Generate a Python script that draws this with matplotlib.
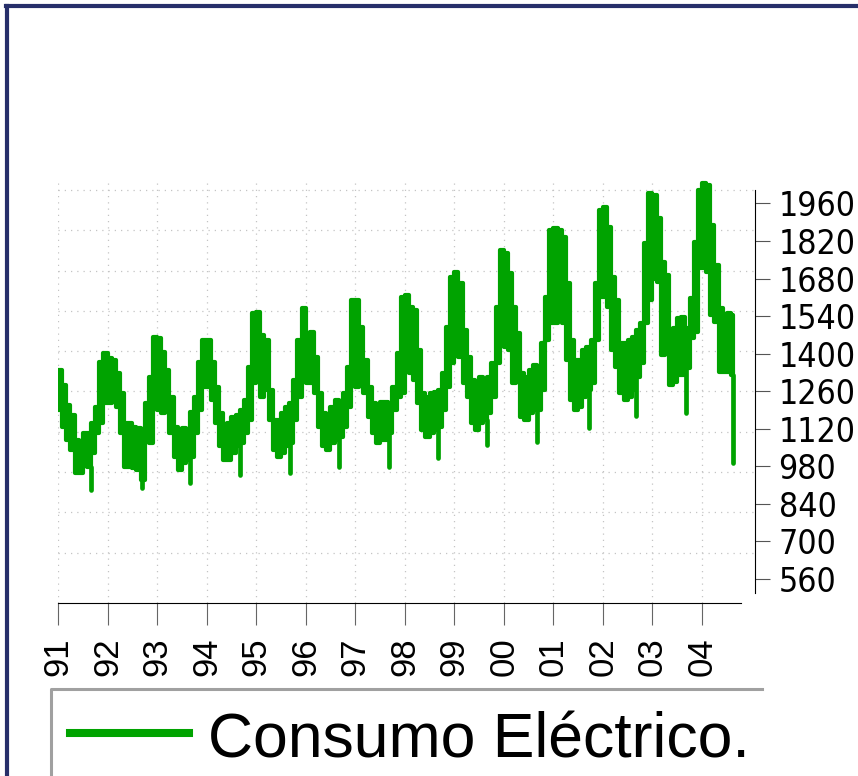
import numpy as np
import matplotlib.pyplot as plt
from matplotlib import font_manager as fm
from matplotlib.lines import Line2D

# monthly upper / lower envelope of the daily series, Jan 1991 .. Aug 2004
monthly_high = [
    1339, 1283, 1209, 1172, 1078, 1066, 1103, 1103, 1141, 1203, 1370, 1402,  # 1991
    1383, 1377, 1327, 1252, 1141, 1141, 1128, 1122, 1103, 1215, 1314, 1464,  # 1992
    1457, 1408, 1339, 1240, 1128, 1091, 1122, 1116, 1184, 1240, 1370, 1451,  # 1993
    1451, 1370, 1277, 1178, 1128, 1141, 1165, 1172, 1190, 1228, 1352, 1551,  # 1994
    1557, 1470, 1451, 1265, 1153, 1153, 1178, 1203, 1215, 1302, 1451, 1569,  # 1995
    1476, 1482, 1389, 1252, 1178, 1165, 1203, 1227, 1215, 1252, 1352, 1600,  # 1996
    1600, 1501, 1377, 1277, 1215, 1203, 1221, 1221, 1215, 1277, 1402, 1613,  # 1997
    1619, 1575, 1563, 1414, 1252, 1240, 1252, 1258, 1265, 1327, 1501, 1687,  # 1998
    1706, 1662, 1488, 1389, 1302, 1277, 1314, 1302, 1314, 1364, 1575, 1787,  # 1999
    1774, 1700, 1575, 1476, 1327, 1314, 1339, 1358, 1339, 1439, 1613, 1861,  # 2000
    1867, 1861, 1836, 1662, 1451, 1376, 1376, 1414, 1426, 1451, 1662, 1936,  # 2001
    1948, 1874, 1687, 1600, 1439, 1439, 1451, 1463, 1488, 1513, 1811, 1998,  # 2002
    1992, 1905, 1743, 1693, 1482, 1495, 1532, 1538, 1495, 1606, 1818, 2010,  # 2003
    2035, 2029, 1880, 1731, 1569, 1519, 1550, 1544,                          # 2004
]
monthly_low = [
    1190, 1128, 1078, 1041, 954, 954, 991, 979, 1029, 1103, 1141, 1215,      # 1991
    1215, 1228, 1203, 1103, 979, 979, 973, 967, 930, 1078, 1066, 1240,       # 1992
    1190, 1178, 1190, 1103, 1016, 967, 991, 1004, 1016, 1103, 1190, 1277,    # 1993
    1277, 1228, 1141, 1054, 1004, 1004, 1029, 1054, 1066, 1103, 1153, 1290,  # 1994
    1302, 1240, 1265, 1153, 1041, 1016, 1029, 1054, 1066, 1153, 1240, 1364,  # 1995
    1290, 1290, 1252, 1128, 1054, 1041, 1066, 1078, 1091, 1128, 1203, 1290,  # 1996
    1277, 1315, 1252, 1165, 1103, 1066, 1078, 1078, 1103, 1190, 1240, 1252,  # 1997
    1389, 1327, 1302, 1215, 1116, 1091, 1103, 1116, 1128, 1190, 1277, 1364,  # 1998
    1451, 1389, 1290, 1240, 1140, 1116, 1140, 1153, 1178, 1240, 1364, 1488,  # 1999
    1426, 1414, 1290, 1339, 1165, 1153, 1178, 1190, 1190, 1265, 1451, 1513,  # 2000
    1513, 1538, 1513, 1377, 1227, 1190, 1203, 1240, 1265, 1290, 1451, 1613,  # 2001
    1613, 1575, 1414, 1352, 1252, 1227, 1240, 1265, 1314, 1364, 1513, 1600,  # 2002
    1680, 1668, 1395, 1470, 1283, 1296, 1320, 1320, 1345, 1457, 1482, 1718,  # 2003
    1718, 1706, 1544, 1519, 1333, 1333, 1333, 1320,                          # 2004
]
# single-day holiday dips (August)
spike_time = [1991.66, 1992.70, 1993.67, 1994.68, 1995.68, 1996.67, 1997.68,
              1998.68, 1999.65, 2000.67, 2001.71, 2002.67, 2003.67]
spike_value = [890, 898, 919, 948, 954, 979, 979, 1010, 1060, 1072, 1122, 1168, 1178]
end_time, end_value = 2004.63, 991

year_ticks = list(range(1991, 2005))
year_labels = ['91', '92', '93', '94', '95', '96', '97', '98', '99', '00', '01', '02', '03', '04']
y_ticks = [560, 700, 840, 980, 1120, 1260, 1400, 1540, 1680, 1820, 1960]

green = '#00a300'
navy = '#272f6a'


def narrow_font(size):
    # the y labels use a tall, narrow face; take a condensed one if installed
    for fam in ['Liberation Sans Narrow', 'DejaVu Sans', 'Noto Sans', 'Roboto', 'Open Sans']:
        fp = fm.FontProperties(family=fam, stretch='condensed', size=size)
        try:
            path = fm.findfont(fp, fallback_to_default=False)
        except ValueError:
            continue
        if 'narrow' in path.lower() or 'cond' in path.lower():
            return fp
    return fm.FontProperties(family='Liberation Sans', size=size)


# month edges for a stepped band between the monthly low and high
n = len(monthly_high)
t_edges = 1991 + np.arange(n + 1) / 12
t_edges[-1] = end_time
hi = np.append(monthly_high, monthly_high[-1])
lo = np.append(monthly_low, monthly_low[-1])
spike_month = ((np.array(spike_time) - 1991) * 12).astype(int)
spike_base = np.array(monthly_low)[spike_month]

W, H = 858, 776
fig = plt.figure(figsize=(W / 100, H / 100), dpi=100)
ax = fig.add_axes([58 / W, 1 - 603 / H, (755 - 58) / W, (603 - 180) / H])

ax.fill_between(t_edges, lo, hi, step='post', facecolor=green, edgecolor=green, lw=3.0,
                joinstyle='round')
ax.vlines(spike_time, spike_value, spike_base, colors=green, lw=3.4, capstyle='round')
ax.vlines([end_time], [end_value], [monthly_low[-1]], colors=green, lw=3.4, capstyle='round')

ax.set_xlim(1991, 2005.07)
ax.set_ylim(470.4, 2047.6)

ax.set_xticks(year_ticks)
ax.set_xticklabels(year_labels, rotation=90, fontsize=25, family='Liberation Sans')
ax.tick_params(axis='x', direction='out', length=16, width=0.8, color='#666666', pad=9)

ax.yaxis.tick_right()
ax.set_yticks(y_ticks)
ax.set_yticklabels([str(v) for v in y_ticks], fontproperties=narrow_font(30))
ax.tick_params(axis='y', which='major', direction='out', length=11, width=0.8,
               color='#555555', pad=6)

# horizontal grid: ten equal steps of the drawn axis range
y_lo, y_hi = 508, 2010
grid_vals = [y_hi - k * (y_hi - y_lo) / 10 for k in range(10)]
ax.set_yticks(grid_vals, minor=True)
ax.tick_params(axis='y', which='minor', length=0)
ax.grid(axis='y', which='minor', ls=(0, (1, 4)), color='#c4c4c4', lw=0.9)
ax.grid(axis='x', which='major', ls=(0, (1, 4)), color='#c4c4c4', lw=0.9)
ax.set_axisbelow(True)

for s in ['left', 'top']:
    ax.spines[s].set_visible(False)
ax.spines['bottom'].set_bounds(1991, 2004.78)
ax.spines['right'].set_bounds(y_lo, y_hi)
ax.spines['bottom'].set_linewidth(0.8)
ax.spines['right'].set_linewidth(0.8)

# outer frame (top and left)
fig.add_artist(Line2D([7 / W, 7 / W], [0, 1 - 5.5 / H], transform=fig.transFigure, color=navy, lw=3))
fig.add_artist(Line2D([5.5 / W, 1], [1 - 5.5 / H, 1 - 5.5 / H], transform=fig.transFigure, color=navy, lw=3))

# legend box (only top and left edges fall inside the picture)
fig.add_artist(Line2D([51 / W, 51 / W, 762 / W], [0, 1 - 689 / H, 1 - 689 / H],
                      transform=fig.transFigure, color='#a0a0a0', lw=2.2))
fig.add_artist(Line2D([70 / W, 189 / W], [1 - 733 / H, 1 - 733 / H], transform=fig.transFigure,
                      color=green, lw=5.8))
fig.text(208 / W, 1 - 757 / H, 'Consumo Eléctrico.', fontsize=45, family='Liberation Sans',
         va='baseline', ha='left')

# keep the right-hand labels inside the picture
fig.canvas.draw()
r = fig.canvas.get_renderer()
labels = ax.get_yticklabels()
boxes = [lab.get_window_extent(r) for lab in labels]
avail = W - 2 - min(b.x0 for b in boxes)
widest = max(b.width for b in boxes)
if widest > avail:
    for lab in labels:
        lab.set_fontsize(lab.get_fontsize() * avail / widest)

fig.savefig('out.png', dpi=100)
